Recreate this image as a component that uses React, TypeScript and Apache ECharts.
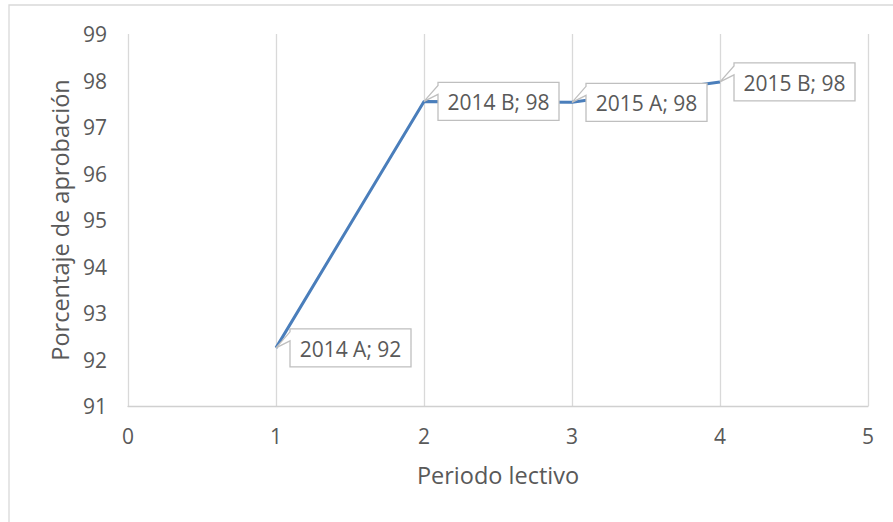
import React, { useEffect, useRef } from "react";
import * as echarts from "echarts";

const periodNames = ["2014 A", "2014 B", "2015 A", "2015 B"];
const periodIndex = [1, 2, 3, 4];
const approvalRates = [92.25, 97.55, 97.53, 97.97];
const xTicks = { min: 0, max: 5, interval: 1 };
const yTicks = { min: 91, max: 99, interval: 1 };

const FONT = "'Open Sans', 'Noto Sans', sans-serif";
const TEXT = "#595959";
const GRID = "#d9d9d9";

export default function App() {
  const ref = useRef<HTMLDivElement>(null);
  useEffect(() => {
    if (!ref.current) return;
    const chart = echarts.init(ref.current, undefined, { renderer: "svg" });
    const lineData = periodIndex.map((x, i) => [x, approvalRates[i]]);
    const calloutData = periodIndex.map((x, i) => [
      x,
      approvalRates[i],
      periodNames[i] + "; " + Math.round(approvalRates[i]),
    ]);
    chart.setOption({
      animation: false,
      backgroundColor: "#ffffff",
      graphic: [
        {
          type: "rect",
          shape: { x: 9, y: 5, width: 1000, height: 700 },
          style: { fill: "none", stroke: GRID, lineWidth: 1.3 },
          silent: true,
          z: -10,
        },
      ],
      grid: { left: 128, right: 25, top: 34, bottom: 116, containLabel: false },
      xAxis: {
        type: "value",
        min: xTicks.min,
        max: xTicks.max,
        interval: xTicks.interval,
        axisLine: { show: true, lineStyle: { color: "#d0d0d0", width: 1.3 } },
        axisTick: { show: false },
        splitLine: { show: true, lineStyle: { color: GRID, width: 1.3 } },
        axisLabel: { color: TEXT, fontSize: 21, fontFamily: FONT, margin: 19 },
        name: "Periodo lectivo",
        nameLocation: "middle",
        nameGap: 57,
        nameTextStyle: { color: TEXT, fontSize: 23.5, fontFamily: FONT },
      },
      yAxis: {
        type: "value",
        min: yTicks.min,
        max: yTicks.max,
        interval: yTicks.interval,
        axisLine: { show: false },
        axisTick: { show: false },
        splitLine: { show: false },
        axisLabel: { color: TEXT, fontSize: 21, fontFamily: FONT, margin: 21 },
        name: "Porcentaje de aprobación",
        nameLocation: "middle",
        nameGap: 53,
        nameRotate: 90,
        nameTextStyle: { color: TEXT, fontSize: 23.5, fontFamily: FONT },
      },
      series: [
        {
          type: "line",
          data: lineData,
          symbol: "none",
          lineStyle: { color: "#4a7ebb", width: 3 },
          z: 2,
        },
        {
          type: "custom",
          data: calloutData,
          encode: { x: 0, y: 1 },
          clip: false,
          z: 5,
          renderItem: (params: any, api: any) => {
            const p = api.coord([api.value(0), api.value(1)]);
            const label = calloutData[params.dataIndex][2] as string;
            const left = p[0] + 14;
            const top = p[1] - 19;
            const w = 121;
            const h = 38;
            const points = [
              [left, top],
              [left + w, top],
              [left + w, top + h],
              [left, top + h],
              [left, top + 12],
              [p[0], p[1]],
              [left, top + 3],
            ];
            return {
              type: "group",
              children: [
                {
                  type: "polygon",
                  shape: { points },
                  style: { fill: "#ffffff", stroke: "#bfbfbf", lineWidth: 1.3 },
                },
                {
                  type: "text",
                  style: {
                    text: label,
                    x: left + w / 2,
                    y: top + h / 2 + 1,
                    align: "center",
                    verticalAlign: "middle",
                    fill: TEXT,
                    fontSize: 21,
                    fontFamily: FONT,
                  },
                },
              ],
            };
          },
        },
      ],
    });
    return () => chart.dispose();
  }, []);
  return (
    <div
      ref={ref}
      style={{ position: "fixed", left: 0, top: 0, width: 893, height: 522 }}
    />
  );
}
